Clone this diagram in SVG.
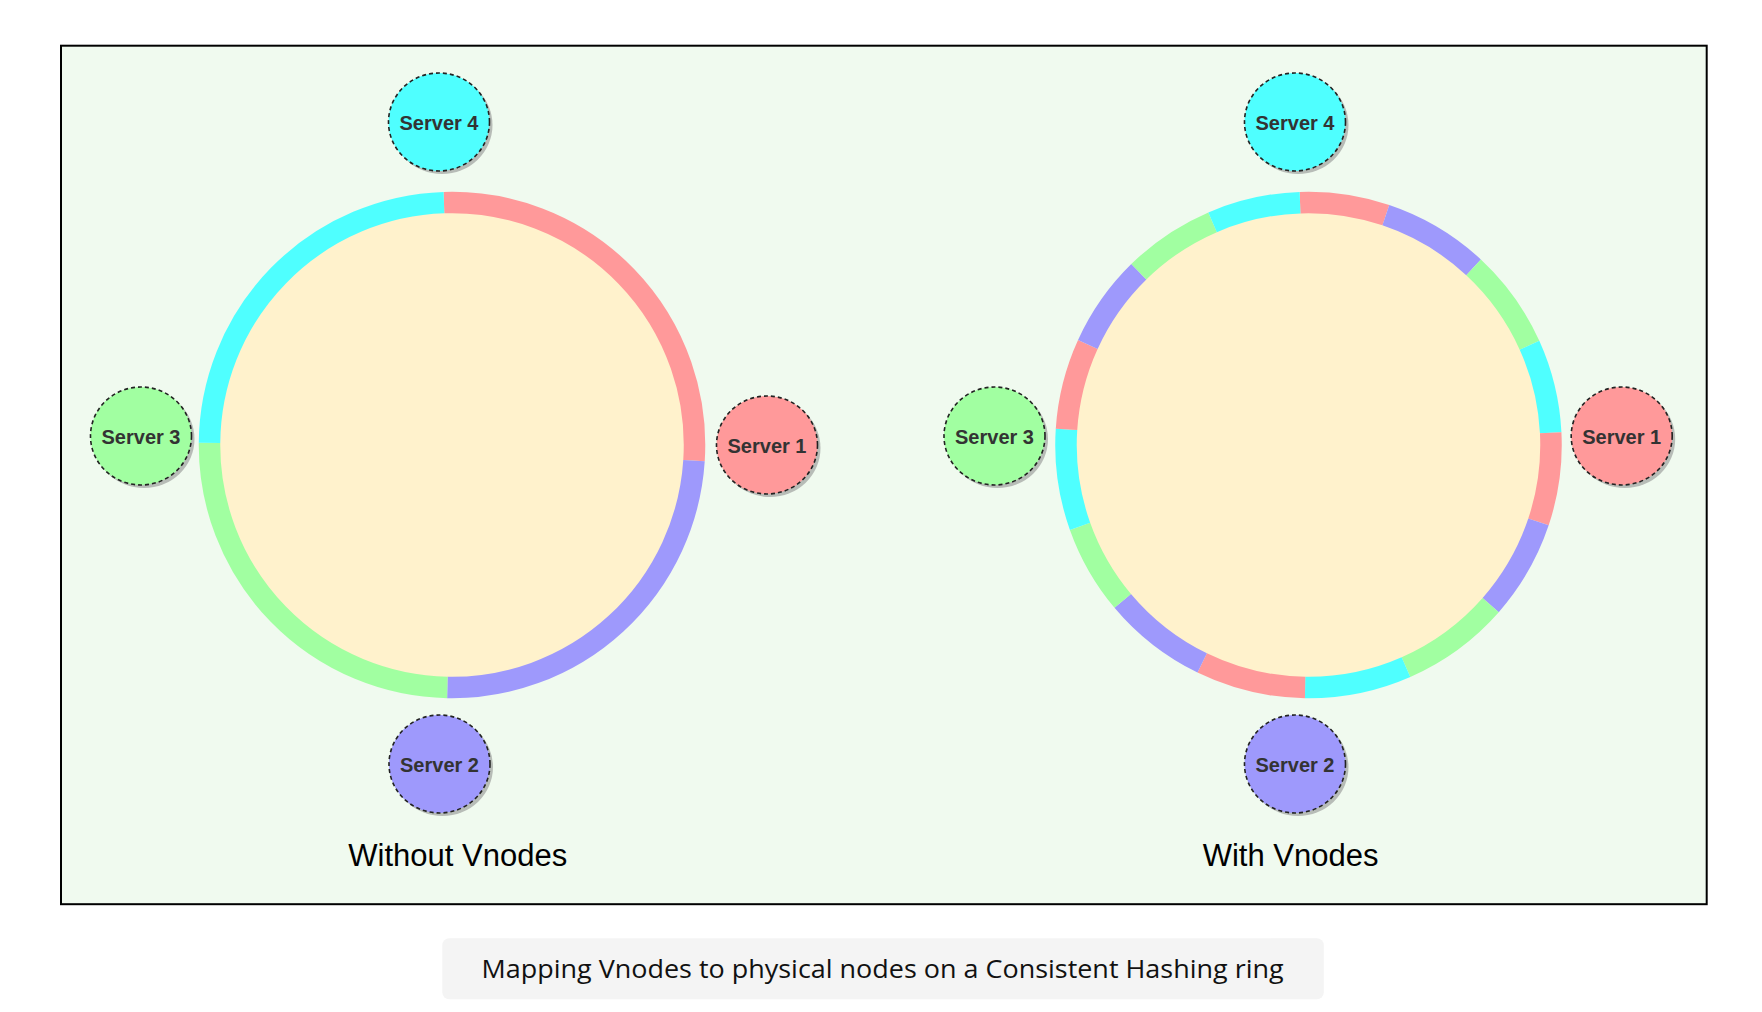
<svg xmlns="http://www.w3.org/2000/svg" width="1762" height="1012" viewBox="0 0 1762 1012">
<defs>
<style>
.seg{fill:none;stroke-width:21.5;stroke-linecap:butt}
.pk{stroke:#FF999A}
.pu{stroke:#9E99FC}
.gr{stroke:#A1FFA1}
.cy{stroke:#4FFFFF}
.core{fill:#FFF2CC}
.srv{stroke:#222;stroke-width:1.6;stroke-dasharray:4 3}
.shadow{fill:#888;opacity:0.55}
.stxt{font-family:"Liberation Sans",Arial,Helvetica,sans-serif;font-weight:bold;font-size:20px;fill:#333;text-anchor:middle}
.lbl{font-family:"Liberation Sans",Arial,Helvetica,sans-serif;font-size:31px;fill:#000;text-anchor:middle}
.cap{font-family:"Open Sans","Noto Sans",sans-serif;font-size:26px;fill:#111;text-anchor:middle}
</style>
</defs>
<rect x="0" y="0" width="1762" height="1012" fill="#FFFFFF"/>
<rect id="frame" x="61" y="45.7" width="1645.7" height="858.5" fill="#F0FAEF" stroke="#000" stroke-width="2"/>

<g id="ring-without-vnodes">
<circle class="core" cx="452" cy="445" r="240"/>
<path class="seg pk" d="M443.96,202.63 A242.5,242.5 0 0 1 694.0,460.65"/>
<path class="seg pu" d="M694.0,460.65 A242.5,242.5 0 0 1 447.34,687.46"/>
<path class="seg gr" d="M447.34,687.46 A242.5,242.5 0 0 1 209.51,442.88"/>
<path class="seg cy" d="M209.51,442.88 A242.5,242.5 0 0 1 443.96,202.63"/>
</g>

<g id="ring-with-vnodes">
<circle class="core" cx="1308.5" cy="445" r="240"/>
<path class="seg pk" d="M1300.04,202.65 A242.5,242.5 0 0 1 1385.85,215.17"/>
<path class="seg pu" d="M1385.85,215.17 A242.5,242.5 0 0 1 1473.57,267.36"/>
<path class="seg gr" d="M1473.57,267.36 A242.5,242.5 0 0 1 1529.51,345.21"/>
<path class="seg cy" d="M1529.51,345.21 A242.5,242.5 0 0 1 1550.69,432.73"/>
<path class="seg pk" d="M1550.69,432.73 A242.5,242.5 0 0 1 1538.47,521.95"/>
<path class="seg pu" d="M1538.47,521.95 A242.5,242.5 0 0 1 1490.68,605.05"/>
<path class="seg gr" d="M1490.68,605.05 A242.5,242.5 0 0 1 1405.97,667.05"/>
<path class="seg cy" d="M1405.97,667.05 A242.5,242.5 0 0 1 1305.11,687.48"/>
<path class="seg pk" d="M1305.11,687.48 A242.5,242.5 0 0 1 1202.20,662.96"/>
<path class="seg pu" d="M1202.20,662.96 A242.5,242.5 0 0 1 1122.73,600.88"/>
<path class="seg gr" d="M1122.73,600.88 A242.5,242.5 0 0 1 1080.05,526.35"/>
<path class="seg cy" d="M1080.05,526.35 A242.5,242.5 0 0 1 1066.5,429.35"/>
<path class="seg pk" d="M1066.5,429.35 A242.5,242.5 0 0 1 1087.83,344.44"/>
<path class="seg pu" d="M1087.83,344.44 A242.5,242.5 0 0 1 1138.83,271.74"/>
<path class="seg gr" d="M1138.83,271.74 A242.5,242.5 0 0 1 1212.58,222.28"/>
<path class="seg cy" d="M1212.58,222.28 A242.5,242.5 0 0 1 1300.04,202.65"/>
</g>

<g id="connectors"></g>

<g id="l-server4">
<ellipse class="shadow" cx="442" cy="125" rx="50.5" ry="49"/>
<ellipse class="srv" cx="439" cy="122" rx="50.5" ry="49" fill="#4FFFFF"/>
<text class="stxt" x="439" y="130">Server 4</text>
</g>
<g id="l-server1">
<ellipse class="shadow" cx="770" cy="448" rx="50.5" ry="49"/>
<ellipse class="srv" cx="767" cy="445" rx="50.5" ry="49" fill="#FF999A"/>
<text class="stxt" x="767" y="453">Server 1</text>
</g>
<g id="l-server3">
<ellipse class="shadow" cx="144" cy="439" rx="50.5" ry="49"/>
<ellipse class="srv" cx="141" cy="436" rx="50.5" ry="49" fill="#A1FFA1"/>
<text class="stxt" x="141" y="444">Server 3</text>
</g>
<g id="l-server2">
<ellipse class="shadow" cx="442.5" cy="767" rx="50.5" ry="49"/>
<ellipse class="srv" cx="439.5" cy="764" rx="50.5" ry="49" fill="#9E99FC"/>
<text class="stxt" x="439.5" y="772">Server 2</text>
</g>

<g id="r-server4">
<ellipse class="shadow" cx="1298" cy="125" rx="50.5" ry="49"/>
<ellipse class="srv" cx="1295" cy="122" rx="50.5" ry="49" fill="#4FFFFF"/>
<text class="stxt" x="1295" y="130">Server 4</text>
</g>
<g id="r-server1">
<ellipse class="shadow" cx="1624.7" cy="439" rx="50.5" ry="49"/>
<ellipse class="srv" cx="1621.7" cy="436" rx="50.5" ry="49" fill="#FF999A"/>
<text class="stxt" x="1621.7" y="444">Server 1</text>
</g>
<g id="r-server3">
<ellipse class="shadow" cx="997.5" cy="439" rx="50.5" ry="49"/>
<ellipse class="srv" cx="994.5" cy="436" rx="50.5" ry="49" fill="#A1FFA1"/>
<text class="stxt" x="994.5" y="444">Server 3</text>
</g>
<g id="r-server2">
<ellipse class="shadow" cx="1298" cy="767" rx="50.5" ry="49"/>
<ellipse class="srv" cx="1295" cy="764" rx="50.5" ry="49" fill="#9E99FC"/>
<text class="stxt" x="1295" y="772">Server 2</text>
</g>

<g id="labels">
<text class="lbl" x="457.8" y="865.7">Without Vnodes</text>
<text class="lbl" x="1290.6" y="865.7">With Vnodes</text>
</g>

<g id="caption">
<rect x="442.3" y="938.3" width="881.5" height="61" rx="7" fill="#F4F4F4"/>
<text class="cap" x="882.6" y="978.3" textLength="802" lengthAdjust="spacingAndGlyphs">Mapping Vnodes to physical nodes on a Consistent Hashing ring</text>
</g>
</svg>
